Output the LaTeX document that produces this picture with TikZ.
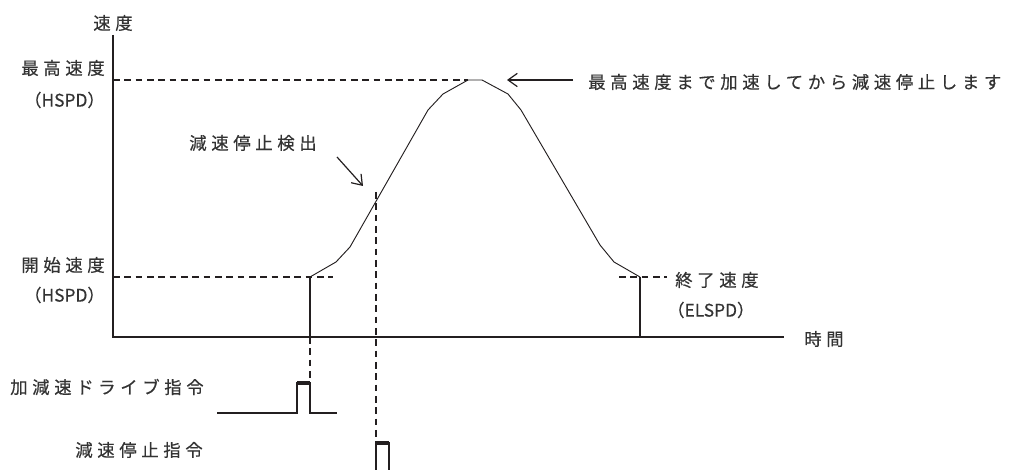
\documentclass[tikz,border=0pt]{standalone}
\usepackage{fontspec}
\newfontfamily\jp[LetterSpace=27,FakeBold=0.5]{Noto Sans CJK JP}
\newfontfamily\jpn[FakeBold=0.5]{Noto Sans CJK JP}
\usetikzlibrary{arrows.meta,positioning,calc}
\definecolor{ink}{HTML}{231F20}
\definecolor{txt}{HTML}{333333}

\begin{document}
\begin{tikzpicture}[x=0.75pt,y=-0.75pt,>={Straight Barb[length=7pt,width=10pt]},
  font=\jp\fontsize{13}{15}\selectfont, draw=ink, text=txt,
  axis/.style={line width=2.2pt},
  guide/.style={line width=0.9pt,dash pattern=on 5pt off 3.5pt},
  curve/.style={line width=0.7pt},
  stem/.style={line width=1.3pt},
  pulse/.style={line width=1.1pt},
  pulsetop/.style={line width=2.6pt},
  lbl/.style={inner sep=0pt},
  lat/.style={inner sep=0pt,font=\jpn\fontsize{13}{15}\selectfont}]
  \useasboundingbox (0,0) rectangle (1015,470);
  % axes
  \coordinate (o) at (113,337);
  \coordinate (ytop) at (113,35);
  \coordinate (xend) at (784,337);
  \draw[axis] (ytop) -- (o) -- (xend);
  \node[lbl] (vlab) at (113,23) {速度};
  \node[lbl,anchor=west] (tlab) at (804,339) {時間};
  % velocity profile
  \coordinate (p0) at (310,277);  \coordinate (p1) at (336,262);
  \coordinate (p2) at (350,247);  \coordinate (p3) at (428,110);
  \coordinate (p4) at (443,94);   \coordinate (p5) at (468,80);
  \coordinate (p6) at (482,80);   \coordinate (p7) at (508,94);
  \coordinate (p8) at (521,110);  \coordinate (p9) at (600,245);
  \coordinate (p10) at (614,262); \coordinate (p11) at (640,277);
  \draw[curve] (p0)--(p1)--(p2)--(p3)--(p4)--(p5)--(p6)--(p7)--(p8)--(p9)--(p10)--(p11);
  \coordinate (t0) at (p0 |- o); \coordinate (t1) at (p11 |- o);
  \draw[stem] (p0)--(t0); \draw[stem] (p11)--(t1);
  % speed levels
  \coordinate (hs) at (113,80); \coordinate (ss) at (113,277);
  \coordinate (ssend) at (333,277);
  \coordinate (es0) at (619,277); \coordinate (es1) at (667,277);
  \draw[guide] (hs)--(p5); \draw[guide] (ss)--(ssend); \draw[guide] (es0)--(es1);
  \node[lbl,anchor=east] (hsl) at (105,68) {最高速度};
  \node[lat,anchor=east] (hsp) at (105,100) {（HSPD）};
  \node[lbl,anchor=east] (ssl) at (105,265) {開始速度};
  \node[lat,anchor=east] (ssp) at (105,295) {（HSPD）};
  \node[lbl,anchor=west] (esl) at (675,280) {終了速度};
  \node[lat,anchor=west] (esp) at (667,310) {（ELSPD）};
  % notes
  \coordinate (na) at (573,80); \coordinate (nb) at (507,80);
  \draw[->,line width=0.9pt] (na)--(nb);
  \node[lbl,anchor=west] (note) at (588,82) {最高速度まで加速してから減速停止します};
  \node[lbl] (det) at (253,143) {減速停止検出};
  \coordinate (da) at (337,157); \coordinate (db) at (363,186);
  \draw[->,line width=0.9pt] (da)--(db);
  % commands
  \coordinate (dtop) at (376,192); \coordinate (dbot) at (376,443);
  \coordinate (sbot) at (310,383);
  \draw[guide] (t0)--(sbot); \draw[guide] (dtop)--(dbot);
  \node[lbl,anchor=west] (cmd1) at (10,387) {加減速ドライブ指令};
  \node[lbl,anchor=east] (cmd2) at (203,450) {減速停止指令};
  \coordinate (a0) at (217,413); \coordinate (a1) at (297,413);
  \coordinate (a2) at (297,383); \coordinate (a3) at (310,383);
  \coordinate (a4) at (310,413); \coordinate (a5) at (337,413);
  \draw[pulse] (a0)--(a1)--(a2)--(a3)--(a4)--(a5);
  \draw[pulsetop] (a2)--(a3);
  \coordinate (b0) at (376,470); \coordinate (b1) at (376,443);
  \coordinate (b2) at (389,443); \coordinate (b3) at (389,470);
  \draw[pulse] (b0)--(b1)--(b2)--(b3);
  \draw[pulsetop] (b1)--(b2);
\end{tikzpicture}
\end{document}
